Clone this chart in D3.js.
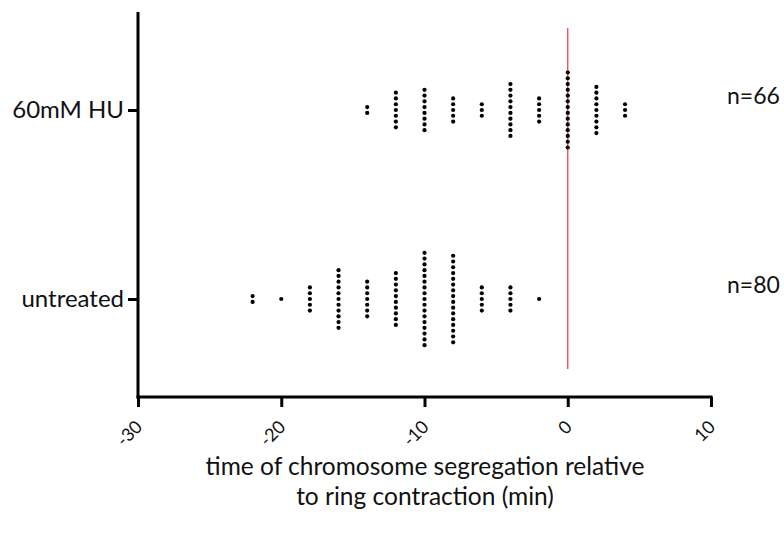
<!DOCTYPE html>
<html>
<head>
<meta charset="utf-8">
<script src="https://cdn.jsdelivr.net/npm/d3@7"></script>
<style>
  body { margin: 0; background: #fff; }
  text { font-family: Lato, "Open Sans", sans-serif; fill: #111; }
</style>
</head>
<body>
<svg id="chart" width="784" height="541"></svg>
<script>
// bins (min) and counts per bin for each group
var groups = ['60mM HU', 'untreated'];
var huTimes = [-14, -12, -10, -8, -6, -4, -2, 0, 2, 4];
var huCounts = [2, 7, 8, 5, 3, 10, 5, 14, 9, 3];
var untreatedTimes = [-22, -20, -18, -16, -14, -12, -10, -8, -6, -4, -2];
var untreatedCounts = [2, 1, 5, 11, 7, 10, 17, 16, 5, 5, 1];
var nLabels = ['n=66', 'n=80'];
var xTicks = [-30, -20, -10, 0, 10];

var svg = d3.select('#chart');
var plotLeft = 138, plotRight = 711, plotTop = 12, plotBottom = 397;

var x = d3.scaleLinear().domain([-30, 10]).range([plotLeft, plotRight]);
var y = d3.scalePoint().domain(groups).range([110, 299]);
var dotStep = 5.77;

// red reference line at 0
svg.append('line')
    .attr('x1', x(0)).attr('x2', x(0))
    .attr('y1', 28).attr('y2', 369)
    .attr('stroke', '#e8474c').attr('stroke-width', 1.3);

function drawGroup(name, times, counts) {
    var pts = [];
    for (var i = 0; i < times.length; i++) {
        for (var k = 0; k < counts[i]; k++) {
            pts.push({ t: times[i], off: (k - (counts[i] - 1) / 2) * dotStep });
        }
    }
    svg.append('g').selectAll('circle')
        .data(pts)
        .enter().append('circle')
        .attr('cx', function (d) { return x(d.t); })
        .attr('cy', function (d) { return y(name) + d.off; })
        .attr('r', 2.1)
        .attr('fill', '#000');
}
drawGroup(groups[0], huTimes, huCounts);
drawGroup(groups[1], untreatedTimes, untreatedCounts);

// x axis
var xAxis = svg.append('g')
    .attr('transform', 'translate(0,' + plotBottom + ')')
    .call(d3.axisBottom(x).tickValues(xTicks).tickSize(10).tickSizeOuter(0).tickFormat(d3.format('d')));
xAxis.select('.domain').attr('stroke', '#000').attr('stroke-width', 3)
    .attr('d', 'M' + (plotLeft - 1.5) + ',0H' + (plotRight + 1.5));
xAxis.selectAll('.tick line').attr('stroke', '#000').attr('stroke-width', 3);
xAxis.selectAll('.tick text')
    .attr('font-size', 18)
    .attr('font-family', 'Lato, "Open Sans", sans-serif')
    .attr('text-anchor', 'end')
    .attr('dy', null)
    .attr('transform', 'translate(5,31) rotate(-45)')
    .attr('x', 0).attr('y', 0)
    .text(function (d) { return String(d).replace('\u2212', '-'); });

// y axis
var yAxis = svg.append('g')
    .attr('transform', 'translate(' + plotLeft + ',0)')
    .call(d3.axisLeft(y).tickSize(10).tickSizeOuter(0).tickPadding(4));
yAxis.select('.domain').attr('stroke', '#000').attr('stroke-width', 3)
    .attr('d', 'M0,' + plotTop + 'V' + (plotBottom + 1.5));
yAxis.selectAll('.tick line').attr('stroke', '#000').attr('stroke-width', 3);
yAxis.selectAll('.tick text')
    .attr('font-size', 24)
    .attr('font-family', 'Lato, "Open Sans", sans-serif');

// n labels
svg.selectAll('.nlab')
    .data(groups)
    .enter().append('text')
    .attr('class', 'nlab')
    .attr('x', 727)
    .attr('y', function (d) { return y(d) - 6; })
    .attr('font-size', 23)
    .text(function (d, i) { return nLabels[i]; });

// axis title
var title = svg.append('text')
    .attr('text-anchor', 'middle')
    .attr('font-size', 24.5);
title.append('tspan').attr('x', 425).attr('y', 475).text('time of chromosome segregation relative');
title.append('tspan').attr('x', 425).attr('y', 505).text('to ring contraction (min)');
</script>
</body>
</html>
